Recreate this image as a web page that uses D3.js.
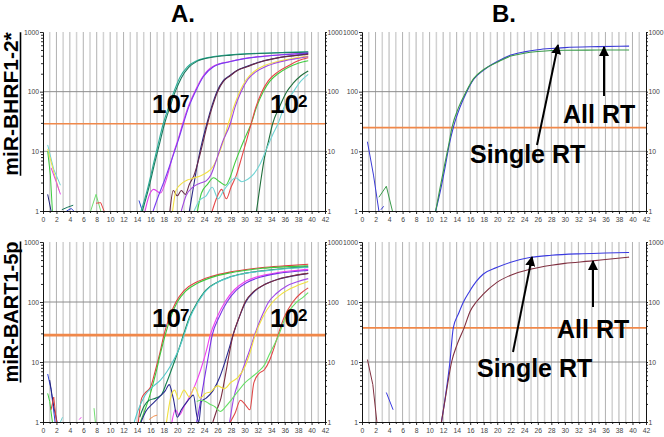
<!DOCTYPE html>
<html>
<head>
<meta charset="utf-8">
<script src="https://cdn.jsdelivr.net/npm/d3@7"></script>
<style>
  body { margin: 0; background: #fff; }
  svg { display: block; font-family: "Liberation Sans", Arial, Helvetica, sans-serif; }
</style>
</head>
<body>
<svg id="fig" width="664" height="437"></svg>
<script>
// ---- axis values ----
const cycleLabels = [0, 2, 4, 6, 8, 10, 12, 14, 16, 18, 20, 22, 24, 26, 28, 30, 32, 34, 36, 38, 40, 42];
const fluorTicks = [1, 10, 100, 1000];
const thresholds = [29, 25, 28, 37];   // A-top, B-top, A-bottom, B-bottom

// ---- A, miR-BHRF1-2* : dilution series 10^7 .. 10^2 (duplicates) ----
const bhrf_e7a = [[14.6,1],[15.5,2.2],[16.5,6.5],[17.2,14],[17.9,29],[18.7,55],[19.5,100],[20.4,175],[21.5,260],[22.9,330],[25,380],[27.8,415],[32,440],[36,455],[39.5,465]];
const bhrf_e7b = [[14.8,1],[15.7,2.3],[16.7,6.8],[17.4,14],[18.1,29],[18.9,55],[19.7,100],[20.6,170],[21.7,255],[23,325],[25,375],[28,410],[32,435],[36,450],[39.5,460]];
const bhrf_e6a = [[15.2,1],[15.8,1.8],[16.5,2.3],[17.5,2.0],[18.3,3.2],[19.4,9],[20.2,17],[20.8,29],[21.6,55],[22.6,100],[23.8,180],[25.3,265],[27.8,320],[30,360],[33,395],[36,420],[39.5,440]];
const bhrf_e6b = [[16.4,1],[17.2,1.8],[18.2,3.5],[19.3,8],[20.2,16],[20.9,29],[21.7,55],[22.7,100],[23.9,180],[25.4,262],[27.8,318],[30,358],[33,392],[36,418],[39.5,445]];
const bhrf_e5a = [[21.8,1],[22.4,2.5],[23.2,8],[23.8,16],[24.4,29],[25.1,55],[25.9,100],[26.8,150],[27.8,185],[29,230],[30.3,265],[32.5,320],[35,370],[37.5,405],[39.5,430]];
const bhrf_e5b = [[18.9,1],[19.4,2.2],[20.0,1.8],[20.6,2.2],[21.2,1.9],[21.8,2.8],[22.5,4],[23.4,9],[24.0,17],[24.5,29],[25.2,55],[26.0,100],[26.9,150],[27.9,185],[29,228],[30.4,262],[32.5,318],[35,368],[37.5,402],[39.5,425]];
const bhrf_e4a = [[19.3,1],[19.8,2.2],[20.5,2.8],[21.5,3.3],[22.5,3.6],[23.5,3.9],[24.5,4.5],[25.3,5.5],[26.0,8],[26.8,14],[27.6,29],[28.4,55],[29.3,100],[30.3,160],[31.5,220],[33,275],[35,320],[37.5,365],[39.5,395]];
const bhrf_e4b = [[20.6,1],[21.3,1.8],[22.3,2.5],[23.3,2.9],[24.3,3.2],[25,4],[25.8,7],[26.7,14],[27.9,29],[28.6,55],[29.5,100],[30.5,160],[31.7,215],[33.2,265],[35,310],[37.5,355],[39.5,385]];
const bhrf_e3a = [[23.0,1],[23.6,2],[24.5,2.8],[25.4,3.6],[26.3,3.1],[27.2,2.7],[27.8,3.5],[28.5,6],[29.4,11],[30.2,18],[31.0,29],[31.8,55],[32.8,100],[33.8,150],[35,200],[36.5,255],[38,300],[39.5,330]];
const bhrf_e3b = [[25.2,1],[26.0,1.8],[26.6,2.3],[27.3,1.6],[28,2.5],[28.8,4],[29.6,8],[30.3,15],[31.0,29],[31.7,55],[32.6,100],[33.6,155],[35,215],[36.5,270],[38,330],[39.5,370]];
const bhrf_e2a = [[31.8,1],[32.4,3],[33.0,8],[33.6,15],[34.2,29],[35.2,55],[36.3,100],[37.3,140],[38.4,185],[39.5,222]];
const bhrf_e2b = [[22.5,1],[23.3,1.5],[24.3,1.8],[25.2,2.5],[26.1,1.6],[26.9,2.2],[27.8,3.0],[28.7,3.6],[29.6,3.1],[30.5,3.4],[31.4,4.2],[32.3,6],[33.3,11],[34.2,19],[35.0,29],[35.9,55],[37.3,100],[38.4,150],[39.5,195]];
const bhrfCurves = [bhrf_e7a, bhrf_e7b, bhrf_e6a, bhrf_e6b, bhrf_e5a, bhrf_e5b, bhrf_e4a, bhrf_e4b, bhrf_e3a, bhrf_e3b, bhrf_e2a, bhrf_e2b];
const bhrfColors = ["#2ab09a", "#1a7a5e", "#e244ea", "#7a3cf0", "#2a2a86", "#6a2a48", "#f2e044", "#a048e0", "#40cc40", "#e84848", "#1e6e3a", "#70d4d4"];
// early-cycle background noise
const bhrfNoise = [
  [[0.7,12.8],[1.6,5],[2.6,2.7]],
  [[0.7,11],[1.6,4.5],[2.4,2.2]],
  [[1.2,5.3],[2.0,3],[2.6,1.9]],
  [[0.7,10],[1.1,4],[1.4,1]],
  [[0.7,1.9],[1.2,1]],
  [[2.8,1.05],[3.6,1.15],[4.5,1.25]],
  [[3.5,1],[4.2,1.1],[4.6,1]],
  [[7.1,1],[7.9,1.9],[8.6,1]],
  [[7.9,1.35],[8.6,1.38],[9.1,1]],
  [[14.3,1.5],[14.8,1]]
];
const bhrfNoiseColors = ["#70d4d4", "#f2e044", "#e244ea", "#40cc40", "#22227a", "#16765a", "#3040d0", "#70dd70", "#e84848", "#3040d0"];

// ---- A, miR-BART1-5p ----
const bart_e7a = [[14.2,1],[14.7,2.5],[15.4,3.2],[16.0,3.8],[16.7,7],[17.4,14],[18.0,28],[18.8,55],[19.8,100],[21,155],[22.9,215],[25,265],[27.8,315],[30,345],[32.7,375],[36,400],[39.5,425]];
const bart_e7b = [[14.5,1],[15.2,1.6],[16.0,3],[16.8,6.5],[17.5,14],[18.2,28],[19.0,55],[20.0,100],[21.2,150],[23,205],[25,255],[27.8,305],[30,335],[32.7,365],[36,385],[39.5,400]];
const bart_e6a = [[14.4,1.2],[15.0,1.8],[15.8,2.3],[16.8,2.5],[17.6,2.8],[18.4,4.5],[19.4,9],[20.2,16],[20.9,28],[21.8,55],[23.0,100],[24.3,160],[25.8,210],[27.8,262],[30,300],[33,335],[36,362],[39.5,385]];
const bart_e6b = [[13.6,1],[14.1,1.5],[15.2,2.8],[16.5,4],[17.5,5],[18.5,7],[19.5,11],[20.3,17],[21.0,28],[21.9,55],[23.1,100],[24.4,160],[25.9,210],[27.8,258],[30,298],[33,330],[36,358],[39.5,380]];
const bart_e5a = [[19.2,1],[19.7,1.6],[20.3,1.3],[21.0,1.8],[21.8,2.6],[22.6,4],[23.5,7.5],[24.3,15],[24.9,28],[25.9,55],[27.1,100],[28.5,160],[30,215],[32,265],[35,310],[37.5,335],[39.5,350]];
const bart_e5b = [[22.9,1],[23.4,2],[24.0,5],[24.6,12],[25.2,28],[26.2,55],[27.4,100],[28.8,158],[30.3,210],[32.3,258],[35,300],[37.5,322],[39.5,335]];
const bart_e4a = [[14.6,1],[15.3,1.5],[16.3,2.0],[17.3,2.6],[18.2,3.3],[18.8,4.2],[19.4,2.5],[20.0,1.2],[20.6,1.6],[21.5,2.2],[22.4,2.8],[22.9,1.3],[23.2,1],[23.6,2.2],[24.3,2.5],[25.3,3.3],[26.3,5.5],[27.1,10],[27.8,18],[28.3,28],[29.2,55],[30.2,100],[31.5,150],[33,195],[35,240],[37.5,275],[39.5,300]];
const bart_e4b = [[25.3,1],[25.9,1.6],[26.5,2.5],[27.1,5.5],[27.7,13],[28.3,28],[29.2,55],[30.1,100],[31.4,150],[33,195],[35,240],[37.5,278],[39.5,300]];
const bart_e3a = [[27.8,1],[28.4,2.5],[29.2,5],[30.0,9],[30.8,16],[31.5,28],[32.5,55],[33.6,100],[34.8,140],[36.3,185],[38,220],[39.5,245]];
const bart_e3b = [[18.4,1],[19.0,2.5],[19.6,3.4],[20.2,2.4],[21.0,3.4],[21.8,2.6],[22.6,3.8],[23.4,2.5],[24.2,3.0],[25.0,3.2],[26.0,4.0],[27.0,3.6],[28.0,4.6],[29.0,5.5],[30.0,8],[30.8,14],[31.6,28],[32.7,55],[34.2,100],[35.5,135],[37.5,180],[39.5,220]];
const bart_e2a = [[27.9,1],[28.6,1.4],[29.4,2.3],[30.2,1.9],[30.8,1.6],[31.4,4.5],[32.2,6.5],[33.0,7.5],[33.8,11],[34.4,17],[35.0,28],[35.9,55],[37.2,100],[38.4,140],[39.5,172]];
const bart_e2b = [[22.9,2.2],[23.5,2.3],[24.2,2.2],[24.8,2.0],[25.6,1.8],[26.4,1.5],[27.2,1.8],[28.0,2.3],[29.0,3.2],[30.0,4.4],[31.0,5.5],[32.0,6.8],[33.0,9],[33.8,14],[34.5,20],[35.1,28],[36.1,55],[37.8,100],[38.8,122],[39.5,143]];
const bartCurves = [bart_e7a, bart_e7b, bart_e6a, bart_e6b, bart_e5a, bart_e5b, bart_e4a, bart_e4b, bart_e3a, bart_e3b, bart_e2a, bart_e2b];
const bartColors = ["#e04040", "#3cc83c", "#158050", "#50c8c8", "#f040f0", "#7a30e8", "#2a2a90", "#7a2c40", "#a048e8", "#f0e040", "#e04848", "#66e066"];
const bartNoise = [
  [[0.7,6.3],[1.2,3.5],[1.8,1]],
  [[1.0,5],[1.3,3],[1.6,1.8],[2.1,1]],
  [[0.7,3],[1.0,2.2],[1.4,1]],
  [[1.2,1.6],[1.6,2.6],[2.0,1]],
  [[2.6,1],[2.9,1.2]],
  [[5.4,1.1],[5.7,1.2]],
  [[7.6,1.7],[7.8,1]],
  [[15.8,1.1],[16.5,1.25],[17.0,1.3]]
];
const bartNoiseColors = ["#3040d8", "#22227a", "#40cc40", "#e04040", "#70d4d4", "#f040f0", "#70dd70", "#f09050"];

// ---- B, single RT vs all RT ----
const bhrfAllRT = [[10.9,1],[11.6,2.2],[12.3,5.5],[12.9,13],[13.5,25],[14.5,55],[15.5,100],[16.5,160],[18,230],[20,320],[22,410],[24,465],[26,505],[28,530],[30,548],[35,568],[39.5,580]];
const bhrfSingleRT = [[10.9,1],[11.5,2.3],[12.2,5.8],[12.8,12.5],[13.3,25],[14.3,55],[15.4,100],[16.5,165],[18,235],[20,310],[22,395],[24,440],[26,470],[28,490],[30,495],[35,498],[39.5,500]];
const bhrfBNoise = [[[0.8,14.5],[1.7,4],[2.5,1]], [[2.8,1.05],[3.2,1.2]], [[2.5,1.7],[3.6,2.6],[4.5,1]]];
const bartAllRT = [[11.75,1],[12.4,3],[13.0,10],[13.5,37],[14.3,65],[15.0,100],[15.9,150],[16.9,220],[17.9,290],[19.9,375],[22,460],[24.8,550],[28,600],[32,635],[36,655],[39.5,670]];
const bartSingleRT = [[11.75,1],[12.5,3.3],[13.25,10],[14.1,20],[15.1,37],[16.0,70],[16.9,100],[17.9,134],[19.9,210],[22,280],[24.8,350],[28,410],[30,440],[33.7,480],[36,510],[39.5,560]];
const bartBNoise = [[[0.8,11],[1.6,4.2],[2.2,1]], [[3.6,3.1],[4.6,1.6]]];

// ---- layout ----
const svg = d3.select("#fig");
const cols = [{ left: 43, right: 325 }, { left: 362, right: 646 }];
const rows = [{ top: 32, bottom: 211 }, { top: 242, bottom: 422 }];
let clipId = 0;

function drawPanel(col, row, curves, colors, noise, noiseColors, threshold, thrWidth) {
    const x = d3.scaleLinear().domain([0, 42]).range([col.left, col.right]);
    const y = d3.scaleLog().domain([1, 1000]).range([row.bottom, row.top]);
    const g = svg.append("g");

    // vertical grid at every cycle
    g.append("g").selectAll("line")
        .data(d3.range(1, 42))
        .enter().append("line")
        .attr("x1", d => x(d)).attr("x2", d => x(d))
        .attr("y1", row.top).attr("y2", row.bottom)
        .attr("stroke", d => d % 2 ? "#d2d2d2" : "#a8a8a8")
        .attr("stroke-width", d => d % 2 ? 1.5 : 0.9);

    g.append("g").selectAll("line")
        .data([10, 100])
        .enter().append("line")
        .attr("x1", col.left).attr("x2", col.right)
        .attr("y1", d => y(d)).attr("y2", d => y(d))
        .attr("stroke", "#8c8c8c").attr("stroke-width", 1);

    // threshold
    g.append("line")
        .attr("x1", col.left).attr("x2", col.right)
        .attr("y1", y(threshold)).attr("y2", y(threshold))
        .attr("stroke", "#f0884a").attr("stroke-width", thrWidth);

    const id = "clip" + (clipId++);
    svg.append("clipPath").attr("id", id).append("rect")
        .attr("x", col.left).attr("y", row.top - 2)
        .attr("width", col.right - col.left).attr("height", row.bottom - row.top + 2);

    const smooth = d3.line().x(d => x(d[0])).y(d => y(d[1])).curve(d3.curveMonotoneX);
    const straight = d3.line().x(d => x(d[0])).y(d => y(d[1]));

    const lines = g.append("g").attr("clip-path", `url(#${id})`).attr("fill", "none");
    lines.selectAll(".noise").data(noise).enter().append("path")
        .attr("d", straight)
        .attr("stroke", (d, i) => noiseColors[i])
        .attr("stroke-width", 1);
    lines.selectAll(".amp").data(curves).enter().append("path")
        .attr("d", smooth)
        .attr("stroke", (d, i) => colors[i])
        .attr("stroke-width", 1.1);

    // axes
    const minorY = [];
    [1, 10, 100].forEach(p => { for (let k = 2; k <= 9; k++) minorY.push(p * k); });
    const style = a => {
        a.selectAll("path, line").attr("stroke", "#111").attr("stroke-width", 0.9);
        a.selectAll("text").attr("fill", "#444").attr("font-size", 6.8)
            .attr("font-family", "'Liberation Sans', Arial, sans-serif");
    };

    g.append("g").attr("transform", `translate(${col.left},0)`)
        .call(d3.axisLeft(y).tickValues(fluorTicks).tickFormat(d3.format("d")).tickSize(3).tickSizeOuter(0).tickPadding(1))
        .call(style);
    g.append("g").attr("transform", `translate(${col.left},0)`)
        .call(d3.axisLeft(y).tickValues(minorY).tickFormat("").tickSize(2).tickSizeOuter(0))
        .call(style);
    g.append("g").attr("transform", `translate(${col.right},0)`)
        .call(d3.axisRight(y).tickValues(fluorTicks).tickFormat(d3.format("d")).tickSize(2).tickSizeOuter(0).tickPadding(0.5))
        .call(style);
    g.append("g").attr("transform", `translate(${col.right},0)`)
        .call(d3.axisRight(y).tickValues(minorY).tickFormat("").tickSize(2).tickSizeOuter(0))
        .call(style);
    g.append("g").attr("transform", `translate(0,${row.bottom})`)
        .call(d3.axisBottom(x).tickValues(cycleLabels).tickSize(3).tickSizeOuter(0).tickPadding(3))
        .call(style);
    g.append("g").attr("transform", `translate(0,${row.bottom})`)
        .call(d3.axisBottom(x).tickValues(d3.range(1, 42, 2)).tickFormat("").tickSize(2).tickSizeOuter(0))
        .call(style);
}

drawPanel(cols[0], rows[0], bhrfCurves, bhrfColors, bhrfNoise, bhrfNoiseColors, thresholds[0], 1.6);
drawPanel(cols[1], rows[0], [bhrfAllRT, bhrfSingleRT], ["#3a3ad6", "#3a9a4a"], bhrfBNoise, ["#3a3ad6", "#3a3ad6", "#3a9a4a"], thresholds[1], 1.6);
drawPanel(cols[0], rows[1], bartCurves, bartColors, bartNoise, bartNoiseColors, thresholds[2], 2.6);
drawPanel(cols[1], rows[1], [bartAllRT, bartSingleRT], ["#3a3ae0", "#803040"], bartBNoise, ["#803040", "#3a3ae0"], thresholds[3], 1.6);

// ---- titles and labels ----
const bold = sel => sel.attr("font-weight", "bold").attr("fill", "#000");

svg.append("text").attr("x", 183).attr("y", 22).attr("text-anchor", "middle")
    .attr("font-size", 24).text("A.").call(bold);
svg.append("text").attr("x", 504).attr("y", 22).attr("text-anchor", "middle")
    .attr("font-size", 24).text("B.").call(bold);

[["miR-BHRF1-2*", 104, 21], ["miR-BART1-5p", 312, 20]].forEach(([label, cy, fs]) => {
    const t = svg.append("text")
        .attr("transform", `translate(18,${cy}) rotate(-90)`)
        .attr("text-anchor", "middle").attr("font-size", fs).text(label).call(bold);
    const len = t.node().getComputedTextLength();
    svg.append("line").attr("x1", 20.5).attr("x2", 20.5)
        .attr("y1", cy - len / 2).attr("y2", cy + len / 2)
        .attr("stroke", "#000").attr("stroke-width", 1.6);
});

// dilution labels
[[152, 113], [270, 113], [152, 327], [270, 327]].forEach(([lx, ly], i) => {
    svg.append("text").attr("x", lx).attr("y", ly).attr("font-size", 26).text("10").call(bold);
    svg.append("text").attr("x", lx + 28).attr("y", ly - 6).attr("font-size", 17)
        .text(i % 2 ? "2" : "7").call(bold);
});

// RT labels + arrows
const defs = svg.append("defs");
defs.append("marker").attr("id", "head").attr("viewBox", "0 0 10 10")
    .attr("refX", 9).attr("refY", 5).attr("markerWidth", 5).attr("markerHeight", 5)
    .attr("orient", "auto")
    .append("path").attr("d", "M0,0 L10,5 L0,10 Z").attr("fill", "#000");

const notes = [
    { all: [563, 123], single: [470, 163], a1: [604, 96, 604, 47], s1: [537, 145, 558, 45] },
    { all: [557, 338], single: [477, 377], a1: [593, 307, 593, 261], s1: [513, 352, 532, 257] }
];
notes.forEach(n => {
    svg.append("text").attr("x", n.all[0]).attr("y", n.all[1]).attr("font-size", 25).text("All RT").call(bold);
    svg.append("text").attr("x", n.single[0]).attr("y", n.single[1]).attr("font-size", 25).text("Single RT").call(bold);
    [n.a1, n.s1].forEach(a => {
        svg.append("line").attr("x1", a[0]).attr("y1", a[1]).attr("x2", a[2]).attr("y2", a[3])
            .attr("stroke", "#000").attr("stroke-width", 2).attr("marker-end", "url(#head)");
    });
});
</script>
</body>
</html>
